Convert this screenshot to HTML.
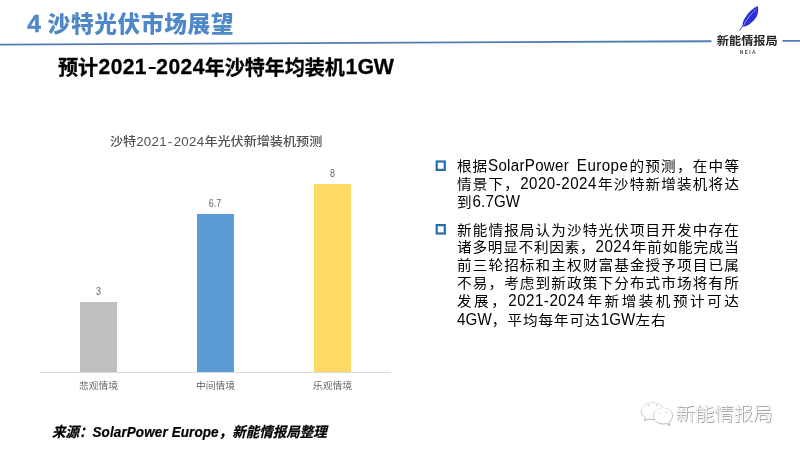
<!DOCTYPE html>
<html lang="zh-CN">
<head>
<meta charset="utf-8">
<title>沙特光伏市场展望</title>
<style>
  html,body{margin:0;padding:0;}
  body{width:800px;height:449px;background:#fff;overflow:hidden;position:relative;
       font-family:"Liberation Sans","Noto Sans CJK SC",sans-serif;will-change:transform;}
  .abs{position:absolute;white-space:nowrap;}
  #title{left:27.2px;top:8px;font-size:22.7px;line-height:32px;font-weight:900;color:#4f88c8;letter-spacing:0.65px;}
  #title .n{font-size:24.6px;margin-right:-0.9px;-webkit-text-stroke:0.45px #4f88c8;}
  #brand{left:716.8px;top:32.6px;font-size:12.2px;line-height:16px;font-weight:bold;color:#262626;transform:scaleY(0.95);}
  #neia{left:739.8px;top:48.7px;font-size:4.8px;line-height:8px;letter-spacing:1.4px;font-weight:bold;color:#444;}
  #sub{-webkit-text-stroke:0.3px #000;left:57.9px;top:54px;font-size:20.05px;line-height:28px;font-weight:bold;color:#000;transform:scaleY(1.025);transform-origin:0 20.3px;}
  #sub .l{font-size:19.8px;letter-spacing:0.2px;display:inline-block;transform:scaleY(1.075);transform-origin:0 20.3px;line-height:28px;vertical-align:top;}
  #ctitle{left:66.1px;width:300px;text-align:center;top:132.5px;font-size:13.1px;line-height:18px;color:#505050;font-weight:500;transform:scaleY(0.92);}
  .bar{position:absolute;}
  .val{font-size:9px;line-height:12px;color:#666;width:40px;text-align:center;transform:scaleY(1.18);transform-origin:50% 78%;}
  .cat{font-size:9.8px;line-height:12px;color:#595959;width:80px;text-align:center;font-weight:350;transform:scaleY(0.95);}
  #src{-webkit-text-stroke:0.2px #000;left:52px;top:424.3px;font-size:13.5px;line-height:18px;font-weight:bold;font-style:italic;color:#000;transform:scaleY(1.05);}
  .ln{position:absolute;left:457px;width:282px;font-size:14.6px;line-height:18px;height:18px;color:#000;
      white-space:nowrap;text-align:justify;text-align-last:justify;transform:scaleY(0.955);}
  .ln .e,.ln .d,.ln .e0{font-size:15.1px;display:inline-block;line-height:18px;vertical-align:top;transform:scaleY(1.14);transform-origin:0 79%;}
  .ln .e{letter-spacing:0.3px;}
  .ln .d{letter-spacing:0.5px;}
  .ln .e0{letter-spacing:0.15px;}
  .ln.last{text-align:left;text-align-last:left;width:auto;letter-spacing:0.95px;}
  #wm{left:675.5px;top:400.6px;font-size:19.45px;line-height:26px;font-weight:300;color:#fff;transform:scaleY(0.92);
      text-shadow:0.8px 0.8px 0.6px #8e8e8e, -0.4px -0.4px 0.8px #d6d6d6;}
</style>
</head>
<body>
<div id="title" class="abs"><span class="n">4</span> 沙特光伏市场展望</div>
<svg class="abs" style="left:0;top:36px" width="800" height="14" viewBox="0 36 800 14">
  <line x1="0" y1="44.6" x2="711.4" y2="41.25" stroke="#4f7db2" stroke-width="1.8"/>
  <line x1="782.6" y1="40.9" x2="800" y2="40.8" stroke="#4f7db2" stroke-width="1.8"/>
</svg>
<svg class="abs" style="left:736px;top:3px" width="26" height="32" viewBox="736 3 26 32">
  <path d="M757.8 5.9 C754 7.4 747.4 12.5 743.5 20.5 C742.8 22.5 742.4 24.5 742.4 26.4 C745.2 27.3 751.8 23.8 756.3 17.2 C757.9 14.4 758.7 10 757.8 5.9 Z" fill="#2b2fd8"/>
  <path d="M743.4 25.2 L739.3 30.7" stroke="#2b2fd8" stroke-width="0.9" fill="none"/>
  <path d="M756.4 9 C751.2 13.4 746.6 19.2 743.6 25.4" stroke="#fff" stroke-width="0.55" fill="none" opacity="0.85"/>
</svg>
<div id="brand" class="abs">新能情报局</div>
<div id="neia" class="abs">NEIA</div>
<div id="sub" class="abs">预计<span class="l" style="margin-left:0.6px;letter-spacing:0.4px;font-size:21px;transform:translateY(-0.9px)">2021</span><span class="l" style="font-size:21px;letter-spacing:0;transform:translateY(-2.9px) scale(1.2,0.8);margin:0 1.4px 0 1px">-</span><span class="l" style="letter-spacing:0.5px;font-size:21px;transform:translateY(-0.9px);margin-right:-0.3px">2024</span>年沙特年均装机<span class="l" style="letter-spacing:-0.2px;margin-left:0.5px;font-size:21.4px;transform:translateY(-0.9px) scaleY(0.99)"><span style="margin-right:0.3px">1</span>GW</span></div>

<div id="ctitle" class="abs">沙特<span style="letter-spacing:0.3px;font-size:13.3px">2021<span style="margin:0 1.1px 0 0.9px">-</span>2024</span>年光伏新增装机预测</div>
<div class="bar" style="left:80.2px;top:301.5px;width:36.8px;height:71px;background:#bfbfbf"></div>
<div class="bar" style="left:197px;top:213.7px;width:36.8px;height:158.8px;background:#5b9bd5"></div>
<div class="bar" style="left:314.2px;top:183.7px;width:36.5px;height:188.8px;background:#ffd966"></div>
<svg class="abs" style="left:40px;top:371px" width="352" height="3" viewBox="40 371 352 3">
  <line x1="40" y1="372.5" x2="390.6" y2="372.5" stroke="#d9d9d9" stroke-width="1"/>
</svg>
<div class="abs val" style="left:78.5px;top:286.4px">3</div>
<div class="abs val" style="left:195px;top:198.4px">6.7</div>
<div class="abs val" style="left:312.5px;top:168.4px">8</div>
<div class="abs cat" style="left:58.5px;top:379.7px">悲观情境</div>
<div class="abs cat" style="left:175.5px;top:379.7px">中间情境</div>
<div class="abs cat" style="left:292.5px;top:379.7px">乐观情境</div>

<div id="src" class="abs">来源：<span style="letter-spacing:0.1px">SolarPower Europe</span>，新能情报局整理</div>

<svg class="abs" style="left:434px;top:158px" width="14" height="16" viewBox="434 158 14 16"><rect x="436.7" y="161.5" width="8.1" height="8.4" fill="#fff" stroke="#236fa8" stroke-width="2.2"/></svg>
<div class="ln" style="top:157px;word-spacing:2.5px"><span style="letter-spacing:-0.3px">根据</span><span class="e">SolarPower</span> <span class="e" style="letter-spacing:0.45px">Europe</span>的预测，在中等</div>
<div class="ln" style="top:175.2px">情景下，<span class="d">2020-2024</span>年沙特新增装机将达</div>
<div class="ln last" style="top:192.6px">到<span class="e0">6.7GW</span></div>
<svg class="abs" style="left:434px;top:221px" width="14" height="16" viewBox="434 221 14 16"><rect x="436.7" y="225.1" width="8.1" height="8.4" fill="#fff" stroke="#236fa8" stroke-width="2.2"/></svg>
<div class="ln" style="top:220.5px;width:281.8px">新能情报局认为沙特光伏项目开发中存在</div>
<div class="ln" style="top:238.4px;width:281.8px">诸多明显不利因素，<span class="d">2024</span>年前如能完成当</div>
<div class="ln" style="top:256.3px;width:281.8px">前三轮招标和主权财富基金授予项目已属</div>
<div class="ln" style="top:274.2px;width:281.8px">不易，考虑到新政策下分布式市场将有所</div>
<div class="ln" style="top:292.1px;width:281.8px">发展，<span class="d">2021-2024</span>年新增装机预计可达</div>
<div class="ln last" style="top:311px"><span class="e0">4GW</span>，平均每年可达<span class="e0">1GW</span>左右</div>

<svg class="abs" style="left:636px;top:398px" width="44" height="32" viewBox="636 398 44 32">
  <defs><linearGradient id="wg" x1="0" y1="0" x2="0.25" y2="1"><stop offset="0" stop-color="#ececec"/><stop offset="0.55" stop-color="#c6c6c6"/><stop offset="1" stop-color="#adadad"/></linearGradient></defs>
  <g fill="#fff" stroke="url(#wg)" stroke-width="1">
    <path d="M652.6 402.6 C646.2 402.6 641.2 406.3 641.2 411 C641.2 413.7 642.9 416.1 645.5 417.6 L644.3 420.8 L648.4 418.9 C649.7 419.3 651.1 419.5 652.6 419.5 C659 419.5 664 415.7 664 411 C664 406.3 659 402.6 652.6 402.6 Z"/>
    <path d="M663 407.8 C657.6 407.8 653.4 411.4 653.4 415.9 C653.4 420.4 657.6 424 663 424 C664.2 424 665.3 423.8 666.4 423.5 L669.8 425.6 L668.9 422.3 C671.2 420.8 672.6 418.5 672.6 415.9 C672.6 411.4 668.4 407.8 663 407.8 Z"/>
  </g>
  <g fill="#c9c9c9"><circle cx="648.5" cy="405.2" r="0.9"/><circle cx="657" cy="405.2" r="0.9"/><circle cx="659.5" cy="413" r="0.8"/><circle cx="666.5" cy="412.6" r="0.8"/></g>
</svg>
<div id="wm" class="abs">新能情报局</div>
</body>
</html>
